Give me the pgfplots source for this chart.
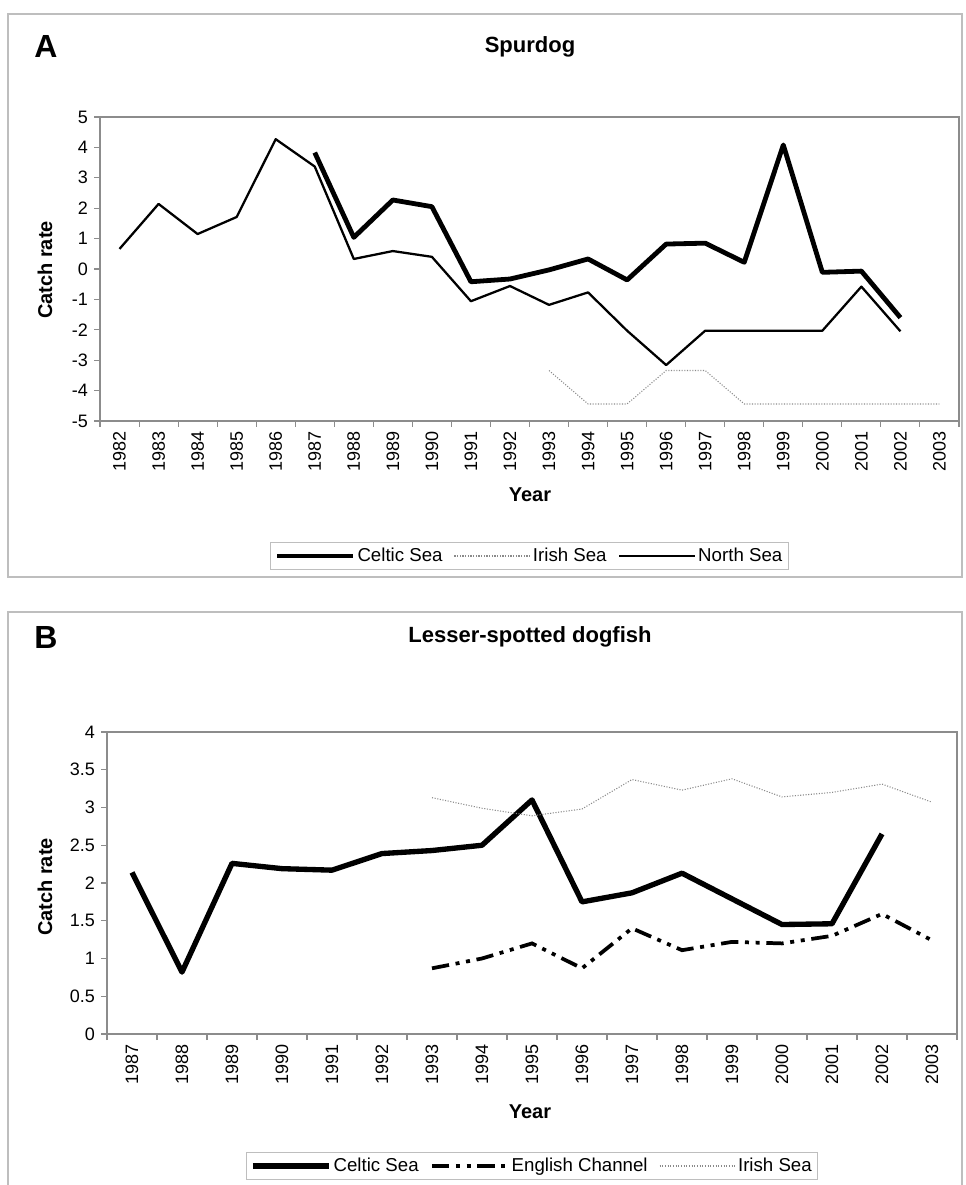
\documentclass[border=0pt]{standalone}
\usepackage{fontspec}
\setmainfont{Liberation Sans}
\usepackage{pgfplots}
\pgfplotsset{compat=1.18}

\definecolor{axgray}{HTML}{8C8C8C}
\definecolor{framegray}{HTML}{BEBEBE}
\definecolor{irishgray}{HTML}{8A8A8A}

\pgfplotsset{
  chartstyle/.style={
    scale only axis,
    axis line style={axgray, line width=0.8pt},
    tick style={axgray, line width=0.8pt},
    major tick length=4.5pt,
    tick align=outside,
    xtick pos=bottom, ytick pos=left,
    /pgf/number format/assume math mode=true,
    ticklabel style={font=\fontsize{13.5}{15}\selectfont},
    y tick label style={xshift=-1pt},
    x tick label as interval,
    xticklabel style={rotate=90, anchor=east, yshift=0pt},
    legend columns=3,
    legend style={draw=framegray, line width=0.8pt, font=\fontsize{14}{16}\selectfont,
      inner xsep=3pt, inner ysep=2pt,
      nodes={inner xsep=1.5pt},
      /tikz/every even column/.append style={column sep=7pt},
      /tikz/every odd column/.append style={column sep=0pt}},
    legend cell align=left,
    legend image code/.code={\draw[##1] (0pt,0pt) -- (57pt,0pt);},
  },
  celtic/.style={black, line width=3.6pt, line join=round},
  north/.style={black, line width=1.7pt, line join=round},
  irish/.style={irishgray, line width=0.8pt, dash pattern=on 0.8pt off 1.2pt},
  english/.style={black, line width=2.8pt, dash pattern=on 13pt off 5pt on 3pt off 5pt on 3pt off 5pt},
}

\begin{document}
\begin{tikzpicture}
\useasboundingbox (0pt,0pt) rectangle (723.75pt,888.75pt);
% frames
\draw[framegray, line width=0.9pt] (6pt,456pt) rectangle (721.5pt,878.25pt);
\draw[framegray, line width=0.9pt] (6pt,-5pt) -- (6pt,429.75pt) -- (721.5pt,429.75pt) -- (721.5pt,-5pt);

% Panel A text
\node[font=\bfseries\fontsize{24}{27}\selectfont] at (34.5pt,853.5pt) {A};
\node[font=\bfseries\fontsize{16.5}{19}\selectfont] at (397.5pt,853.5pt) {Spurdog};
\node[font=\bfseries\fontsize{15}{18}\selectfont, rotate=90] at (33.75pt,686.25pt) {Catch rate};
\node[font=\bfseries\fontsize{15}{18}\selectfont] at (397.5pt,517.5pt) {Year};

\begin{axis}[chartstyle,
  at={(75pt,573pt)}, anchor=south west,
  width=644.25pt, height=228pt,
  xmin=1981.5, xmax=2003.5, ymin=-5, ymax=5,
  xtick={1981.5,1982.5,1983.5,1984.5,1985.5,1986.5,1987.5,1988.5,1989.5,1990.5,1991.5,1992.5,1993.5,1994.5,1995.5,1996.5,1997.5,1998.5,1999.5,2000.5,2001.5,2002.5,2003.5},
  xticklabels={1982,1983,1984,1985,1986,1987,1988,1989,1990,1991,1992,1993,1994,1995,1996,1997,1998,1999,2000,2001,2002,2003},
  ytick={-5,-4,-3,-2,-1,0,1,2,3,4,5},
  legend style={at={(0.5,-0.444)}, anchor=center},
]
\addplot[celtic] coordinates {(1987,3.83)(1988,1.04)(1989,2.27)(1990,2.05)(1991,-0.42)(1992,-0.33)(1993,-0.03)(1994,0.33)(1995,-0.36)(1996,0.82)(1997,0.85)(1998,0.22)(1999,4.08)(2000,-0.11)(2001,-0.07)(2002,-1.6)};
\addlegendentry{Celtic Sea}
\addplot[irish] coordinates {(1993,-3.34)(1994,-4.44)(1995,-4.44)(1996,-3.34)(1997,-3.34)(1998,-4.44)(1999,-4.44)(2000,-4.44)(2001,-4.44)(2002,-4.44)(2003,-4.44)};
\addlegendentry{Irish Sea}
\addplot[north] coordinates {(1982,0.66)(1983,2.14)(1984,1.15)(1985,1.71)(1986,4.27)(1987,3.37)(1988,0.33)(1989,0.59)(1990,0.40)(1991,-1.06)(1992,-0.56)(1993,-1.18)(1994,-0.77)(1995,-2.03)(1996,-3.16)(1997,-2.03)(1998,-2.03)(1999,-2.03)(2000,-2.03)(2001,-0.58)(2002,-2.05)};
\addlegendentry{North Sea}
\end{axis}

% Panel B text
\node[font=\bfseries\fontsize{24}{27}\selectfont] at (34.5pt,411pt) {B};
\node[font=\bfseries\fontsize{16.5}{19}\selectfont] at (397.5pt,411pt) {Lesser-spotted dogfish};
\node[font=\bfseries\fontsize{15}{18}\selectfont, rotate=90] at (33.75pt,223.5pt) {Catch rate};
\node[font=\bfseries\fontsize{15}{18}\selectfont] at (397.5pt,54.75pt) {Year};

\begin{axis}[chartstyle,
  at={(80.25pt,113.25pt)}, anchor=south west,
  width=637.5pt, height=226.5pt,
  xmin=1986.5, xmax=2003.5, ymin=0, ymax=4,
  xtick={1986.5,1987.5,1988.5,1989.5,1990.5,1991.5,1992.5,1993.5,1994.5,1995.5,1996.5,1997.5,1998.5,1999.5,2000.5,2001.5,2002.5,2003.5},
  xticklabels={1987,1988,1989,1990,1991,1992,1993,1994,1995,1996,1997,1998,1999,2000,2001,2002,2003},
  ytick={0,0.5,1,1.5,2,2.5,3,3.5,4},
  yticklabels={0,0.5,1,1.5,2,2.5,3,3.5,4},
  legend style={at={(0.5,-0.437)}, anchor=center},
]
\addplot[celtic, line width=4pt] coordinates {(1987,2.14)(1988,0.82)(1989,2.26)(1990,2.19)(1991,2.17)(1992,2.39)(1993,2.43)(1994,2.50)(1995,3.10)(1996,1.75)(1997,1.87)(1998,2.13)(1999,1.79)(2000,1.45)(2001,1.46)(2002,2.65)};
\addlegendentry{Celtic Sea}
\addplot[english] coordinates {(1993,0.87)(1994,1.00)(1995,1.20)(1996,0.87)(1997,1.40)(1998,1.11)(1999,1.22)(2000,1.20)(2001,1.30)(2002,1.59)(2003,1.24)};
\addlegendentry{English Channel}
\addplot[irish] coordinates {(1993,3.13)(1994,2.99)(1995,2.89)(1996,2.98)(1997,3.37)(1998,3.23)(1999,3.38)(2000,3.14)(2001,3.20)(2002,3.31)(2003,3.07)};
\addlegendentry{Irish Sea}
\end{axis}
\end{tikzpicture}
\end{document}
